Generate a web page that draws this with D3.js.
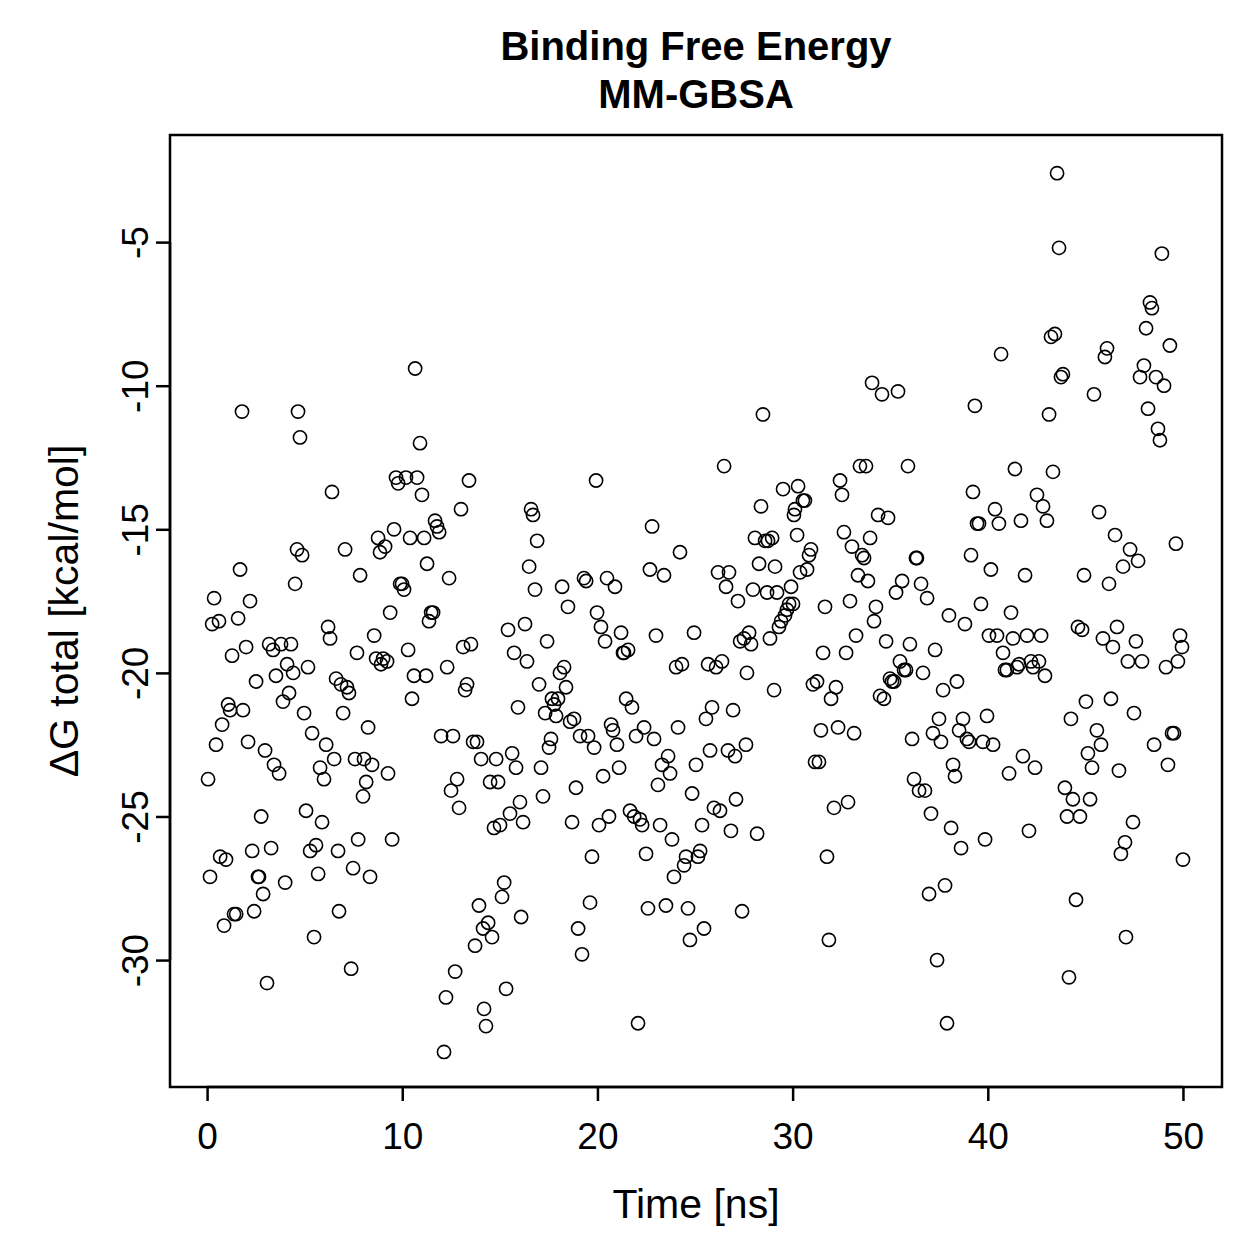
<!DOCTYPE html>
<html>
<head>
<meta charset="utf-8">
<script src="https://cdn.jsdelivr.net/npm/d3@7"></script>
<style>
  body { margin: 0; background: #fff; }
  text { font-family: "Liberation Sans", Arial, Helvetica, sans-serif; fill: #000; }
</style>
</head>
<body>
<svg id="chart"></svg>
<script>
// time [ns]
const timeNs = [
0.05,0.15,0.26,0.36,0.46,0.61,0.67,0.77,0.87,0.97,1.08,1.18,1.28,1.38,1.49,1.59,1.69,1.79,1.84,2.00,
2.10,2.20,2.31,2.41,2.51,2.61,2.66,2.77,2.87,2.97,3.07,3.18,3.28,3.38,3.43,3.53,3.69,3.79,3.89,4.00,
4.10,4.20,4.30,4.41,4.51,4.61,4.66,4.76,4.87,4.97,5.07,5.17,5.28,5.38,5.48,5.58,5.69,5.79,5.89,5.99,
6.10,6.20,6.30,6.40,6.51,6.61,6.71,6.76,6.86,6.97,7.07,7.17,7.27,7.38,7.48,7.58,7.68,7.74,7.84,7.99,
8.04,8.15,8.25,8.35,8.45,8.56,8.66,8.76,8.86,8.91,9.02,9.12,9.22,9.27,9.38,9.48,9.58,9.68,9.79,9.89,
9.99,10.09,10.19,10.30,10.40,10.50,10.60,10.66,10.76,10.91,11.01,11.12,11.22,11.27,11.37,11.48,11.58,11.68,11.78,11.89,
11.99,12.14,12.24,12.30,12.40,12.50,12.60,12.71,12.81,12.91,13.01,13.12,13.22,13.32,13.42,13.52,13.63,13.73,13.83,13.93,
14.04,14.14,14.19,14.29,14.40,14.50,14.60,14.70,14.81,14.91,15.01,15.11,15.22,15.32,15.42,15.52,15.63,15.73,15.83,15.93,
16.03,16.09,16.19,16.29,16.39,16.50,16.60,16.70,16.80,16.91,17.01,17.11,17.21,17.32,17.42,17.52,17.62,17.67,17.78,17.88,
17.98,18.08,18.19,18.29,18.39,18.49,18.60,18.70,18.80,18.90,19.01,19.11,19.21,19.31,19.42,19.52,19.62,19.72,19.83,19.93,
19.98,20.08,20.18,20.29,20.39,20.49,20.59,20.70,20.80,20.90,21.00,21.11,21.21,21.31,21.36,21.47,21.57,21.67,21.77,21.88,
21.98,22.08,22.18,22.29,22.39,22.49,22.59,22.69,22.80,22.90,23.00,23.10,23.21,23.31,23.41,23.51,23.62,23.72,23.82,23.92,
24.03,24.13,24.23,24.33,24.44,24.54,24.64,24.74,24.85,24.95,25.05,25.15,25.26,25.36,25.46,25.56,25.67,25.77,25.87,25.97,
26.08,26.18,26.28,26.38,26.49,26.59,26.69,26.74,26.84,26.95,27.05,27.10,27.20,27.31,27.41,27.51,27.61,27.66,27.77,27.87,
27.97,28.07,28.18,28.28,28.38,28.48,28.59,28.69,28.74,28.84,28.95,29.05,29.10,29.20,29.30,29.41,29.51,29.61,29.71,29.82,
29.92,30.02,30.07,30.12,30.23,30.28,30.38,30.53,30.63,30.74,30.84,30.94,31.04,31.15,31.25,31.35,31.45,31.56,31.66,31.76,
31.86,31.97,32.12,32.22,32.33,32.43,32.53,32.63,32.74,32.84,32.94,33.04,33.15,33.25,33.35,33.45,33.56,33.66,33.76,33.86,
33.97,34.07,34.17,34.27,34.38,34.48,34.58,34.68,34.79,34.89,34.99,35.09,35.20,35.30,35.40,35.50,35.61,35.71,35.81,35.91,
36.01,36.12,36.22,36.32,36.37,36.48,36.58,36.68,36.78,36.89,36.99,37.09,37.19,37.30,37.40,37.50,37.60,37.71,37.81,37.91,
38.01,38.12,38.22,38.32,38.42,38.53,38.63,38.73,38.83,38.93,39.04,39.14,39.24,39.34,39.45,39.55,39.65,39.75,39.86,39.96,
40.06,40.16,40.27,40.37,40.47,40.57,40.68,40.78,40.88,40.98,41.09,41.19,41.29,41.39,41.50,41.60,41.70,41.80,41.91,42.01,
42.11,42.21,42.32,42.42,42.52,42.62,42.73,42.83,42.93,43.03,43.14,43.24,43.34,43.44,43.55,43.65,43.75,43.85,43.95,44.06,
44.16,44.26,44.36,44.52,44.62,44.72,44.83,44.93,45.03,45.13,45.24,45.34,45.44,45.59,45.70,45.80,45.90,46.00,46.11,46.21,
46.31,46.41,46.52,46.62,46.72,46.82,46.93,47.03,47.08,47.18,47.29,47.44,47.49,47.59,47.70,47.80,47.90,48.00,48.11,48.21,
48.31,48.41,48.52,48.62,48.72,48.82,48.92,49.03,49.13,49.23,49.33,49.44,49.54,49.64,49.74,49.85,49.95,50.00
];

// dG total [kcal/mol]
const deltaG = [
-23.7,-27.1,-18.3,-17.4,-22.5,-18.2,-26.4,-21.8,-28.8,-26.5,-21.1,-21.3,-19.4,-28.4,-28.4,-18.1,-16.4,-10.9,-21.3,-19.1,
-22.4,-17.5,-26.2,-28.3,-20.3,-27.1,-27.1,-25.0,-27.7,-22.7,-30.8,-19.0,-26.1,-19.2,-23.2,-20.1,-23.5,-19.0,-21.0,-27.3,
-19.7,-20.7,-19.0,-20.0,-16.9,-15.7,-10.9,-11.8,-15.9,-21.4,-24.8,-19.8,-26.2,-22.1,-29.2,-26.0,-27.0,-23.3,-25.2,-23.7,
-22.5,-18.4,-18.8,-13.7,-23.0,-20.2,-26.2,-28.3,-20.4,-21.4,-15.7,-20.5,-20.7,-30.3,-26.8,-23.0,-19.3,-25.8,-16.6,-24.3,
-23.0,-23.8,-21.9,-27.1,-23.2,-18.7,-19.5,-15.3,-15.8,-19.7,-19.5,-15.6,-19.6,-23.5,-17.9,-25.8,-15.0,-13.2,-13.4,-16.9,
-16.9,-17.1,-13.2,-19.2,-15.3,-20.9,-20.1,-9.4,-13.2,-12.0,-13.8,-15.3,-20.1,-16.2,-18.2,-17.9,-17.9,-14.7,-14.9,-15.1,
-22.2,-33.2,-31.3,-19.8,-16.7,-24.1,-22.2,-30.4,-23.7,-24.7,-14.3,-19.1,-20.6,-20.4,-13.3,-19.0,-22.4,-29.5,-22.4,-28.1,
-23.0,-28.9,-31.7,-32.3,-28.7,-23.8,-29.2,-25.4,-23.0,-23.8,-25.3,-27.8,-27.3,-31.0,-18.5,-24.9,-22.8,-19.3,-23.3,-21.2,
-24.5,-28.5,-25.2,-18.3,-19.6,-16.3,-14.3,-14.5,-17.1,-15.4,-20.4,-23.3,-24.3,-21.4,-18.9,-22.6,-22.3,-20.9,-21.1,-21.5,
-20.9,-20.0,-17.0,-19.8,-20.5,-17.7,-21.7,-25.2,-21.6,-24.0,-28.9,-22.2,-29.8,-16.7,-16.8,-22.2,-28.0,-26.4,-22.6,-13.3,
-17.9,-25.3,-18.4,-23.6,-18.9,-16.7,-25.0,-21.8,-22.0,-17.0,-22.5,-23.3,-18.6,-19.3,-19.3,-20.9,-19.2,-24.8,-21.2,-25.0,
-22.2,-32.2,-25.1,-25.3,-21.9,-26.3,-28.2,-16.4,-14.9,-22.3,-18.7,-23.9,-25.3,-23.2,-16.6,-28.1,-22.9,-23.5,-25.8,-27.1,
-19.8,-21.9,-15.8,-19.7,-26.7,-26.4,-28.2,-29.3,-24.2,-18.6,-23.2,-26.4,-26.2,-25.3,-28.9,-21.6,-19.7,-22.7,-21.2,-24.7,
-19.8,-16.5,-24.8,-19.6,-12.8,-17.0,-22.7,-16.5,-25.5,-21.3,-22.9,-24.4,-17.5,-18.9,-28.3,-18.8,-22.5,-20.0,-18.6,-19.0,
-17.1,-15.3,-25.6,-16.2,-14.2,-11.0,-15.4,-17.2,-15.4,-18.8,-15.3,-20.6,-16.3,-17.2,-18.4,-18.2,-13.6,-18.0,-17.8,-17.6,
-17.0,-17.6,-14.5,-14.3,-15.2,-13.5,-16.5,-14.0,-14.0,-16.4,-15.9,-15.7,-20.4,-23.1,-20.3,-23.1,-22.0,-19.3,-17.7,-26.4,
-29.3,-20.9,-24.7,-20.5,-21.9,-13.3,-13.8,-15.1,-19.3,-24.5,-17.5,-15.6,-22.1,-18.7,-16.6,-12.8,-15.9,-16.0,-12.8,-16.8,
-15.3,-9.9,-18.2,-17.7,-14.5,-20.8,-10.3,-20.9,-18.9,-14.6,-20.2,-20.3,-20.3,-17.2,-10.2,-19.6,-16.8,-19.9,-19.9,-12.8,
-19.0,-22.3,-23.7,-16.0,-16.0,-24.1,-16.9,-20.0,-24.1,-17.4,-27.7,-24.9,-22.1,-19.2,-30.0,-21.6,-22.4,-20.6,-27.4,-32.2,
-18.0,-25.4,-23.2,-23.6,-20.3,-22.0,-26.1,-21.6,-18.3,-22.3,-22.4,-15.9,-13.7,-10.7,-14.8,-14.8,-17.6,-22.4,-25.8,-21.5,
-18.7,-16.4,-22.5,-14.3,-18.7,-14.8,-8.9,-19.3,-19.9,-19.9,-23.5,-17.9,-18.8,-12.9,-19.8,-19.7,-14.7,-22.9,-16.6,-18.7,
-25.5,-19.6,-19.8,-23.3,-13.8,-19.6,-18.7,-14.2,-20.1,-14.7,-11.0,-8.3,-13.0,-8.2,-2.6,-5.2,-9.7,-9.6,-24.0,-25.0,
-30.6,-21.6,-24.4,-27.9,-18.4,-25.0,-18.5,-16.6,-21.0,-22.8,-24.4,-23.3,-10.3,-22.0,-14.4,-22.5,-18.8,-9.0,-8.7,-16.9,
-20.9,-19.1,-15.2,-18.4,-23.4,-26.3,-16.3,-25.9,-29.2,-19.6,-15.7,-25.2,-21.4,-18.9,-16.1,-9.7,-19.6,-9.3,-8.0,-10.8,
-7.1,-7.3,-22.5,-9.7,-11.5,-11.9,-5.4,-10.0,-19.8,-23.2,-8.6,-22.1,-22.1,-15.5,-19.6,-18.7,-19.1,-26.5
];

const xTicks = [0, 10, 20, 30, 40, 50];
const yTicks = [-30, -25, -20, -15, -10, -5];
const titleLines = ["Binding Free Energy", "MM-GBSA"];

const data = timeNs.map((t, i) => ({ t, g: deltaG[i] }));

const width = 1259, height = 1259;
const margin = { top: 135, right: 37, bottom: 172, left: 170 };

const svg = d3.select("#chart").attr("width", width).attr("height", height);

// R style axis range (4% padding)
const x = d3.scaleLinear()
    .domain([-1.9, 52.0])
    .range([margin.left, width - margin.right]);

const y = d3.scaleLinear()
    .domain([-34.42, -1.27])
    .range([height - margin.bottom, margin.top]);

// points
svg.append("g")
    .selectAll("circle")
    .data(data)
    .join("circle")
    .attr("cx", d => x(d.t))
    .attr("cy", d => y(d.g))
    .attr("r", 6.6)
    .attr("fill", "none")
    .attr("stroke", "#000")
    .attr("stroke-width", 1.6);

// X axis
const xAxis = svg.append("g")
    .attr("transform", `translate(0,${height - margin.bottom})`)
    .call(d3.axisBottom(x).tickValues(xTicks).tickSize(14).tickPadding(22).tickFormat(d3.format("d")));
xAxis.select(".domain").attr("d", `M${x(0)},0H${x(50)}`).attr("stroke-width", 2.5);
xAxis.selectAll(".tick line").attr("stroke-width", 2.5);
xAxis.selectAll("text").attr("font-size", 37).attr("font-family", "Liberation Sans, Arial, sans-serif");

// Y axis
const yAxis = svg.append("g")
    .attr("transform", `translate(${margin.left},0)`)
    .call(d3.axisLeft(y).tickValues(yTicks).tickSize(14).tickFormat(d => d));
yAxis.select(".domain").attr("d", `M0,${y(-30)}V${y(-5)}`).attr("stroke-width", 2.5);
yAxis.selectAll(".tick line").attr("stroke-width", 2.5);
yAxis.selectAll("text")
    .attr("font-size", 37)
    .attr("font-family", "Liberation Sans, Arial, sans-serif")
    .attr("text-anchor", "middle")
    .attr("x", 0)
    .attr("dy", 0)
    .attr("transform", "translate(-22,0) rotate(-90)");

// box
svg.append("rect")
    .attr("x", margin.left)
    .attr("y", margin.top)
    .attr("width", width - margin.left - margin.right)
    .attr("height", height - margin.top - margin.bottom)
    .attr("fill", "none")
    .attr("stroke", "#000")
    .attr("stroke-width", 2.5);

// titles
svg.append("g")
    .selectAll("text")
    .data(titleLines)
    .join("text")
    .attr("x", (margin.left + width - margin.right) / 2)
    .attr("y", (d, i) => 60 + i * 48)
    .attr("text-anchor", "middle")
    .attr("font-size", 40)
    .attr("font-weight", "bold")
    .text(d => d);

svg.append("text")
    .attr("x", (margin.left + width - margin.right) / 2)
    .attr("y", 1218)
    .attr("text-anchor", "middle")
    .attr("font-size", 41)
    .text("Time [ns]");

svg.append("text")
    .attr("transform", `translate(78,${(margin.top + height - margin.bottom) / 2}) rotate(-90)`)
    .attr("text-anchor", "middle")
    .attr("font-size", 41)
    .text("ΔG total [kcal/mol]");
</script>
</body>
</html>
